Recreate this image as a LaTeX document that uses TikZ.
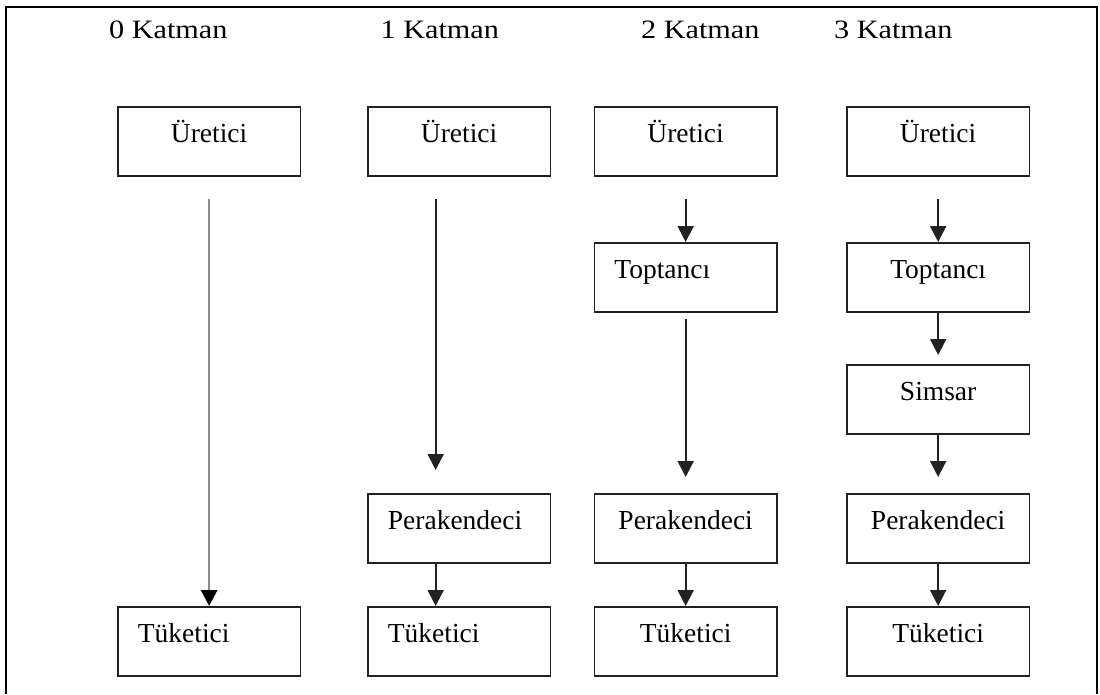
\documentclass[tikz,border=0pt]{standalone}
\usepackage{fontspec}
\usepackage{graphicx}
\setmainfont{Liberation Serif}
\usetikzlibrary{arrows.meta}
\definecolor{edge}{HTML}{222222}
\definecolor{softline}{HTML}{8C8C8C}
\newcommand{\boxfont}{\fontsize{27.5pt}{33pt}\selectfont}
\newcommand{\headfont}{\fontsize{26.5pt}{31pt}\selectfont}
\newcommand{\layername}[1]{\scalebox{1.14}[1]{#1}}
\begin{document}
\begin{tikzpicture}[x=1pt,y=-1pt,
  stage/.style={draw=edge, line width=1.8pt, inner ysep=0pt, anchor=north west,
    minimum height=69pt, text height=14pt, text depth=11pt, font=\boxfont},
  cbox/.style={stage, inner xsep=0pt, text width=182.5pt, align=center},
  lbox/.style={stage, inner xsep=20pt, text width=142.5pt, align=left},
  layer/.style={anchor=base west, inner sep=0pt, font=\headfont},
  flow/.style={draw=edge, line width=1.9pt, -{Triangle[width=16pt,length=16pt]}},
  longflow/.style={draw=softline, line width=2.6pt, -{Triangle[width=16pt,length=16pt,color=black]}}
]
\useasboundingbox (0,0) rectangle (1100,694);
\fill[white] (0,0) rectangle (1100,694);

% outer frame (open at the bottom)
\draw[line width=2.4pt, black] (6,694) -- (6,7) -- (1097,7) -- (1097,694);

% layer headings
\node[layer] (h0) at (109,38)   {\layername{0 Katman}};
\node[layer] (h1) at (380.5,38) {\layername{1 Katman}};
\node[layer] (h2) at (641,38)   {\layername{2 Katman}};
\node[layer] (h3) at (834,38)   {\layername{3 Katman}};

% 0 layers
\node[cbox] (u0) at (117,106)   {Üretici};
\node[lbox] (t0) at (117,606)   {Tüketici};

% 1 layer
\node[cbox] (u1) at (367,106)   {Üretici};
\node[lbox] (p1) at (367,493)   {Perakendeci};
\node[lbox] (t1) at (367,606)   {Tüketici};

% 2 layers
\node[cbox] (u2) at (593.5,106) {Üretici};
\node[lbox] (w2) at (593.5,242) {Toptancı};
\node[cbox] (p2) at (593.5,493) {Perakendeci};
\node[cbox] (t2) at (593.5,606) {Tüketici};

% 3 layers
\node[cbox] (u3) at (846,106)   {Üretici};
\node[cbox] (w3) at (846,242)   {Toptancı};
\node[cbox] (s3) at (846,364)   {Simsar};
\node[cbox] (p3) at (846,493)   {Perakendeci};
\node[cbox] (t3) at (846,606)   {Tüketici};

% connectors
\draw[longflow] ([yshift=-22.5pt]u0.south) -- (t0.north);

\draw[flow] ([xshift=-23.5pt,yshift=-22.5pt]u1.south) -- ([xshift=-23.5pt,yshift=23pt]p1.north);
\draw[flow] ([xshift=-23.5pt]p1.south) -- ([xshift=-23.5pt]t1.north);

\draw[flow] ([yshift=-22.5pt]u2.south) -- (w2.north);
\draw[flow] ([yshift=-6pt]w2.south) -- ([yshift=16pt]p2.north);
\draw[flow] (p2.south) -- (t2.north);

\draw[flow] ([yshift=-22.5pt]u3.south) -- (w3.north);
\draw[flow] (w3.south) -- ([yshift=9pt]s3.north);
\draw[flow] (s3.south) -- ([yshift=16pt]p3.north);
\draw[flow] (p3.south) -- (t3.north);
\end{tikzpicture}
\end{document}
